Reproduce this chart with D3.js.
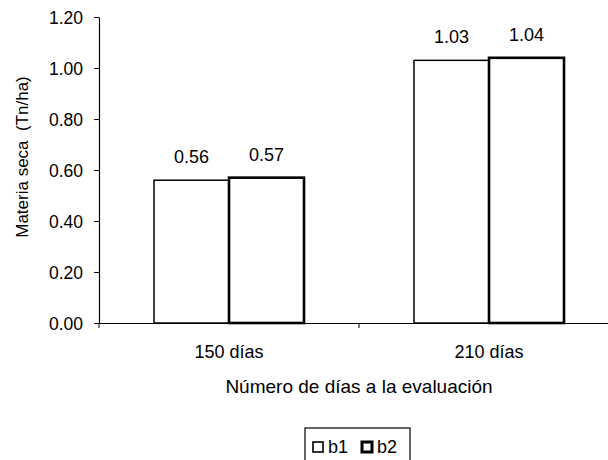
<!DOCTYPE html>
<html>
<head>
<meta charset="utf-8">
<script src="https://cdn.jsdelivr.net/npm/d3@7"></script>
<style>
  html, body { margin:0; padding:0; background:#fff; }
  svg { display:block; font-family:"Liberation Sans", Arial, sans-serif; }
</style>
</head>
<body>
<svg id="chart" width="608" height="460"></svg>
<script>
// data
const categories = ['150 días', '210 días'];
const seriesNames = ['b1', 'b2'];
const b1Values = [0.56, 1.03];
const b2Values = [0.57, 1.04];
const yTicks = [0, 0.2, 0.4, 0.6, 0.8, 1.0, 1.2];

const FONT = '"Liberation Sans", Arial, sans-serif';
const svg = d3.select('#chart');
const m = { left:99, top:17, right:619, bottom:323 };

const x = d3.scaleBand().domain(categories).range([m.left, m.right]);
const y = d3.scaleLinear().domain([0, 1.2]).range([m.bottom, m.top]);
const inner = d3.scaleBand().domain(seriesNames).range([0, 150]);
const groupOff = (x.bandwidth() - 150) / 2;

const rows = categories.map((c, i) => ({ cat:c, vals:[
  { s:'b1', v:b1Values[i] }, { s:'b2', v:b2Values[i] }
]}));

const strokeW = { b1:1.5, b2:2.6 };

// bars + value labels
const g = svg.append('g');
rows.forEach(r => {
  g.selectAll(null).data(r.vals).enter().append('rect')
    .attr('x', d => x(r.cat) + groupOff + inner(d.s))
    .attr('y', d => y(d.v))
    .attr('width', inner.bandwidth())
    .attr('height', d => y(0) - y(d.v))
    .attr('fill', '#fff')
    .attr('stroke', '#000')
    .attr('stroke-width', d => strokeW[d.s]);
  g.selectAll(null).data(r.vals).enter().append('text')
    .attr('x', d => x(r.cat) + groupOff + inner(d.s) + inner.bandwidth()/2)
    .attr('y', d => y(d.v) - 17)
    .attr('text-anchor', 'middle')
    .attr('font-size', '18px')
    .attr('fill', '#000')
    .text(d => d.v.toFixed(2));
});

// y axis
const yAxis = svg.append('g').attr('transform', `translate(${m.left},0)`)
  .call(d3.axisLeft(y).tickValues(yTicks).tickFormat(d3.format('.2f')).tickSize(5).tickSizeOuter(0));
yAxis.select('.domain').attr('stroke', '#000').attr('stroke-width', 1.2);
yAxis.selectAll('.tick line').attr('stroke', '#000');
yAxis.selectAll('.tick text').attr('font-size', '17.5px').attr('font-family', FONT)
  .attr('fill', '#000').attr('x', -16).attr('dy', '0.36em');

// x axis
const xAxis = svg.append('g').attr('transform', `translate(0,${m.bottom})`)
  .call(d3.axisBottom(x).tickSize(0).tickSizeOuter(0));
xAxis.select('.domain').attr('stroke', '#000').attr('stroke-width', 1.2);
xAxis.selectAll('.tick text').attr('font-size', '18px').attr('font-family', FONT)
  .attr('fill', '#000').attr('dy', 0).attr('y', 35);
// boundary ticks between categories
svg.append('g').selectAll('line').data([m.left, x(categories[1])]).enter().append('line')
  .attr('x1', d => d).attr('x2', d => d)
  .attr('y1', m.bottom).attr('y2', m.bottom + 5)
  .attr('stroke', '#000');

// titles
svg.append('text')
  .attr('transform', `translate(28,157) rotate(-90)`)
  .attr('text-anchor', 'middle')
  .attr('font-size', '17px')
  .style('white-space', 'pre')
  .text('Materia seca  (Tn/ha)');
svg.append('text')
  .attr('x', 359).attr('y', 393)
  .attr('text-anchor', 'middle')
  .attr('font-size', '19px')
  .text('Número de días a la evaluación');

// legend
const lg = svg.append('g').attr('transform', 'translate(305,428)');
lg.append('rect').attr('x', 0).attr('y', 0).attr('width', 105).attr('height', 40)
  .attr('fill', '#fff').attr('stroke', '#000').attr('stroke-width', 1.2);
const items = lg.selectAll('g.item').data(seriesNames).enter().append('g')
  .attr('transform', (d, i) => `translate(${8 + i*49},0)`);
items.append('rect').attr('x', 0).attr('y', 14).attr('width', 10).attr('height', 10)
  .attr('fill', '#fff').attr('stroke', '#000').attr('stroke-width', d => d === 'b2' ? 3 : 1.6);
items.append('text').attr('x', 15).attr('y', 25).attr('font-size', '18px').text(d => d);
</script>
</body>
</html>
